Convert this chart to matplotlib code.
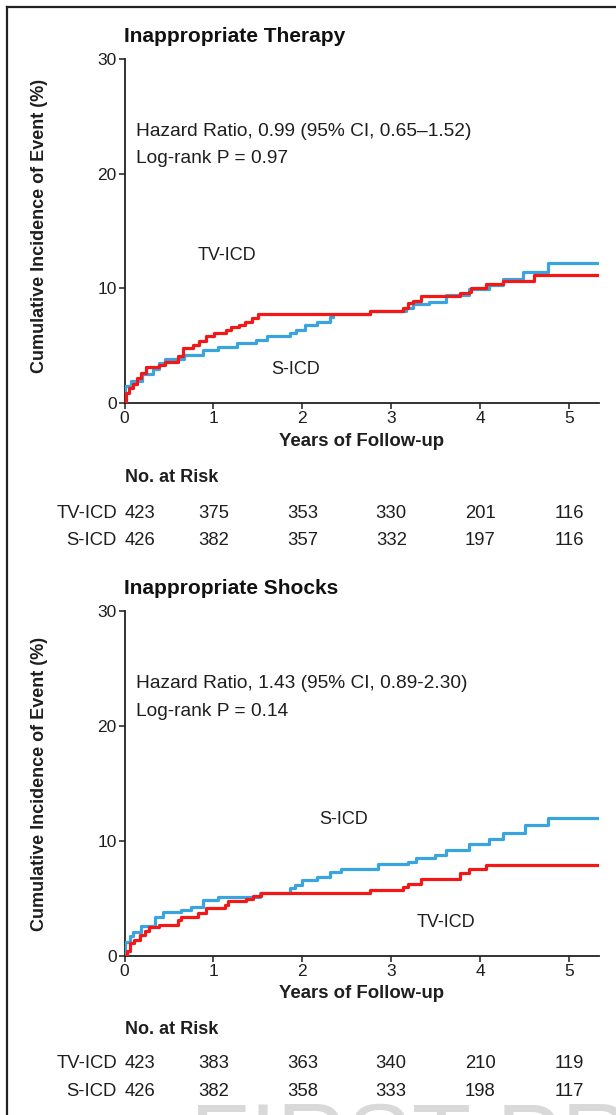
import matplotlib
matplotlib.use("Agg")
import matplotlib.pyplot as plt
from matplotlib.lines import Line2D
from matplotlib import transforms

plt.rcParams['font.family'] = ['Liberation Sans', 'DejaVu Sans']

# ---------------- data ----------------
therapy_tv_t = [0, 0.02, 0.05, 0.09, 0.14, 0.19, 0.24, 0.39, 0.45, 0.6, 0.66, 0.77, 0.84, 0.92,
                1.01, 1.14, 1.2, 1.29, 1.35, 1.43, 1.5, 2.76, 3.13, 3.19, 3.25, 3.34, 3.77, 3.88,
                3.9, 4.07, 4.26, 4.61, 5.34]
therapy_tv_v = [0, 0.9, 1.3, 1.7, 2.2, 2.6, 3.1, 3.3, 3.6, 4.1, 4.8, 5.1, 5.4, 5.8,
                6.1, 6.4, 6.6, 6.8, 7.1, 7.4, 7.8, 8.0, 8.3, 8.7, 8.9, 9.3, 9.6, 9.7,
                10.0, 10.4, 10.6, 11.2, 11.2]
therapy_s_t = [0, 0.005, 0.07, 0.2, 0.32, 0.39, 0.45, 0.67, 0.88, 1.05, 1.26, 1.48, 1.6, 1.86,
               1.93, 2.03, 2.16, 2.31, 2.34, 2.76, 3.17, 3.24, 3.43, 3.62, 3.88, 4.1, 4.26,
               4.48, 4.76, 5.34]
therapy_s_v = [0, 1.5, 1.9, 2.5, 3.0, 3.5, 3.8, 4.2, 4.6, 4.9, 5.2, 5.5, 5.8, 6.1,
               6.4, 6.8, 7.1, 7.5, 7.8, 8.0, 8.3, 8.6, 8.8, 9.4, 9.9, 10.3, 10.8,
               11.4, 12.2, 12.2]

shocks_tv_t = [0, 0.03, 0.06, 0.11, 0.17, 0.23, 0.28, 0.39, 0.6, 0.64, 0.83, 0.92, 1.13, 1.16,
               1.37, 1.44, 1.54, 2.76, 3.13, 3.19, 3.34, 3.77, 3.88, 4.07, 5.34]
shocks_tv_v = [0, 0.4, 1.1, 1.4, 1.8, 2.2, 2.5, 2.7, 3.1, 3.4, 3.7, 4.2, 4.4, 4.8,
               5.0, 5.2, 5.5, 5.7, 6.0, 6.3, 6.7, 7.2, 7.6, 7.9, 7.9]
shocks_s_t = [0, 0.01, 0.06, 0.09, 0.19, 0.34, 0.43, 0.64, 0.75, 0.88, 1.05, 1.52, 1.86, 1.92,
              2.0, 2.16, 2.31, 2.44, 2.85, 3.19, 3.28, 3.49, 3.62, 3.88, 4.1, 4.26, 4.5, 4.76, 5.34]
shocks_s_v = [0, 1.2, 1.7, 2.1, 2.6, 3.4, 3.8, 4.0, 4.3, 4.9, 5.1, 5.5, 5.9, 6.2,
              6.6, 6.9, 7.3, 7.6, 8.0, 8.2, 8.5, 8.8, 9.2, 9.7, 10.2, 10.7, 11.4, 12.0, 12.0]

risk_years = [0, 1, 2, 3, 4, 5]
therapy_risk_tv = [423, 375, 353, 330, 201, 116]
therapy_risk_s = [426, 382, 357, 332, 197, 116]
shocks_risk_tv = [423, 383, 363, 340, 210, 119]
shocks_risk_s = [426, 382, 358, 333, 198, 117]

titles = ["Inappropriate Therapy", "Inappropriate Shocks"]
hr_texts = ["Hazard Ratio, 0.99 (95% CI, 0.65\u20131.52)", "Hazard Ratio, 1.43 (95% CI, 0.89-2.30)"]
p_texts = ["Log-rank P = 0.97", "Log-rank P = 0.14"]
y_ticks = [0, 10, 20, 30]
x_ticks = [0, 1, 2, 3, 4, 5]

RED = '#f21818'
BLUE = '#3aa4de'
INK = '#1e1e1e'

# ---------------- figure ----------------
W, H = 616, 1115
fig = plt.figure(figsize=(W / 100, H / 100), dpi=100)
fig.patch.set_facecolor('white')

def fx(px):
    return px / W

def fy(py):
    return 1 - py / H

# frame
fig.add_artist(Line2D([fx(7), fx(7)], [fy(7), fy(H + 5)], color='#222222', lw=1.6))
fig.add_artist(Line2D([fx(7), fx(W + 5)], [fy(7), fy(7)], color='#222222', lw=1.6))

# watermark
fig.text(fx(190), fy(1101), "FIRST PROOF", fontsize=70, color='#d9d9d9', ha='left', va='top',
         zorder=-5)

panels = [
    dict(top=59, bottom=403, title_y=37, tv=(therapy_tv_t, therapy_tv_v), s=(therapy_s_t, therapy_s_v),
         risk_tv=therapy_risk_tv, risk_s=therapy_risk_s, xl_y=441, nar_y=478, r1=514, r2=541,
         tv_lab=(1.15, 12.9), s_lab=(1.93, 2.9), ylab_y=0.515),
    dict(top=611, bottom=956, title_y=589, tv=(shocks_tv_t, shocks_tv_v), s=(shocks_s_t, shocks_s_v),
         risk_tv=shocks_risk_tv, risk_s=shocks_risk_s, xl_y=994, nar_y=1029, r1=1064, r2=1092,
         tv_lab=(3.62, 2.95), s_lab=(2.46, 11.9), ylab_y=0.50),
]

left_px, right_px = 124.5, 599
xmax = (right_px - left_px) / 88.9

for i, p in enumerate(panels):
    ax = fig.add_axes([fx(left_px), fy(p['bottom']), (right_px - left_px) / W,
                       (p['bottom'] - p['top']) / H])
    ax.step(p['s'][0], p['s'][1], where='post', color=BLUE, lw=2.3, zorder=3)
    ax.step(p['tv'][0], p['tv'][1], where='post', color=RED, lw=2.3, zorder=3)
    ax.set_xlim(0, xmax)
    ax.set_ylim(0, 30)
    ax.set_xticks(x_ticks)
    ax.set_yticks(y_ticks)
    for sp in ['top', 'right']:
        ax.spines[sp].set_visible(False)
    for sp in ['left', 'bottom']:
        ax.spines[sp].set_linewidth(1.3)
        ax.spines[sp].set_color('#222222')
    ax.tick_params(direction='out', length=4, width=1.1, labelsize=12.5, pad=1.5,
                   colors=INK)
    ax.set_ylabel("Cumulative Incidence of Event (%)", fontsize=13, fontweight='bold',
                  color=INK)
    ax.yaxis.set_label_coords(-0.162, p['ylab_y'])
    ax.text(0.13, 23.7, hr_texts[i], fontsize=13.8, ha='left', va='center', color=INK)
    ax.text(0.13, 21.3, p_texts[i], fontsize=13.8, ha='left', va='center', color=INK)
    ax.text(p['tv_lab'][0], p['tv_lab'][1], "TV-ICD", fontsize=13, ha='center', va='center',
            color=INK)
    ax.text(p['s_lab'][0], p['s_lab'][1], "S-ICD", fontsize=13, ha='center', va='center',
            color=INK)

    fig.text(fx(124), fy(p['title_y']), titles[i], fontsize=15, fontweight='bold',
             ha='left', va='center', color='#111111')
    fig.text(fx((left_px + right_px) / 2), fy(p['xl_y']), "Years of Follow-up", fontsize=13.4,
             fontweight='bold', ha='center', va='center', color=INK)
    fig.text(fx(125), fy(p['nar_y']), "No. at Risk", fontsize=13, fontweight='bold',
             ha='left', va='center', color=INK)

    tr = transforms.blended_transform_factory(ax.transData, fig.transFigure)
    fig.text(fx(117), fy(p['r1']), "TV-ICD", fontsize=13.3, ha='right', va='center', color=INK)
    fig.text(fx(117), fy(p['r2']), "S-ICD", fontsize=13.3, ha='right', va='center', color=INK)
    for j, yr in enumerate(risk_years):
        ha = 'left' if j == 0 else 'center'
        xx = yr + (0.0 if j == 0 else 0)
        fig.text(xx, fy(p['r1']), str(p['risk_tv'][j]), transform=tr, fontsize=13.3, ha=ha,
                 va='center', color=INK)
        fig.text(xx, fy(p['r2']), str(p['risk_s'][j]), transform=tr, fontsize=13.3, ha=ha,
                 va='center', color=INK)

fig.savefig("out.png", dpi=100, facecolor='white')
